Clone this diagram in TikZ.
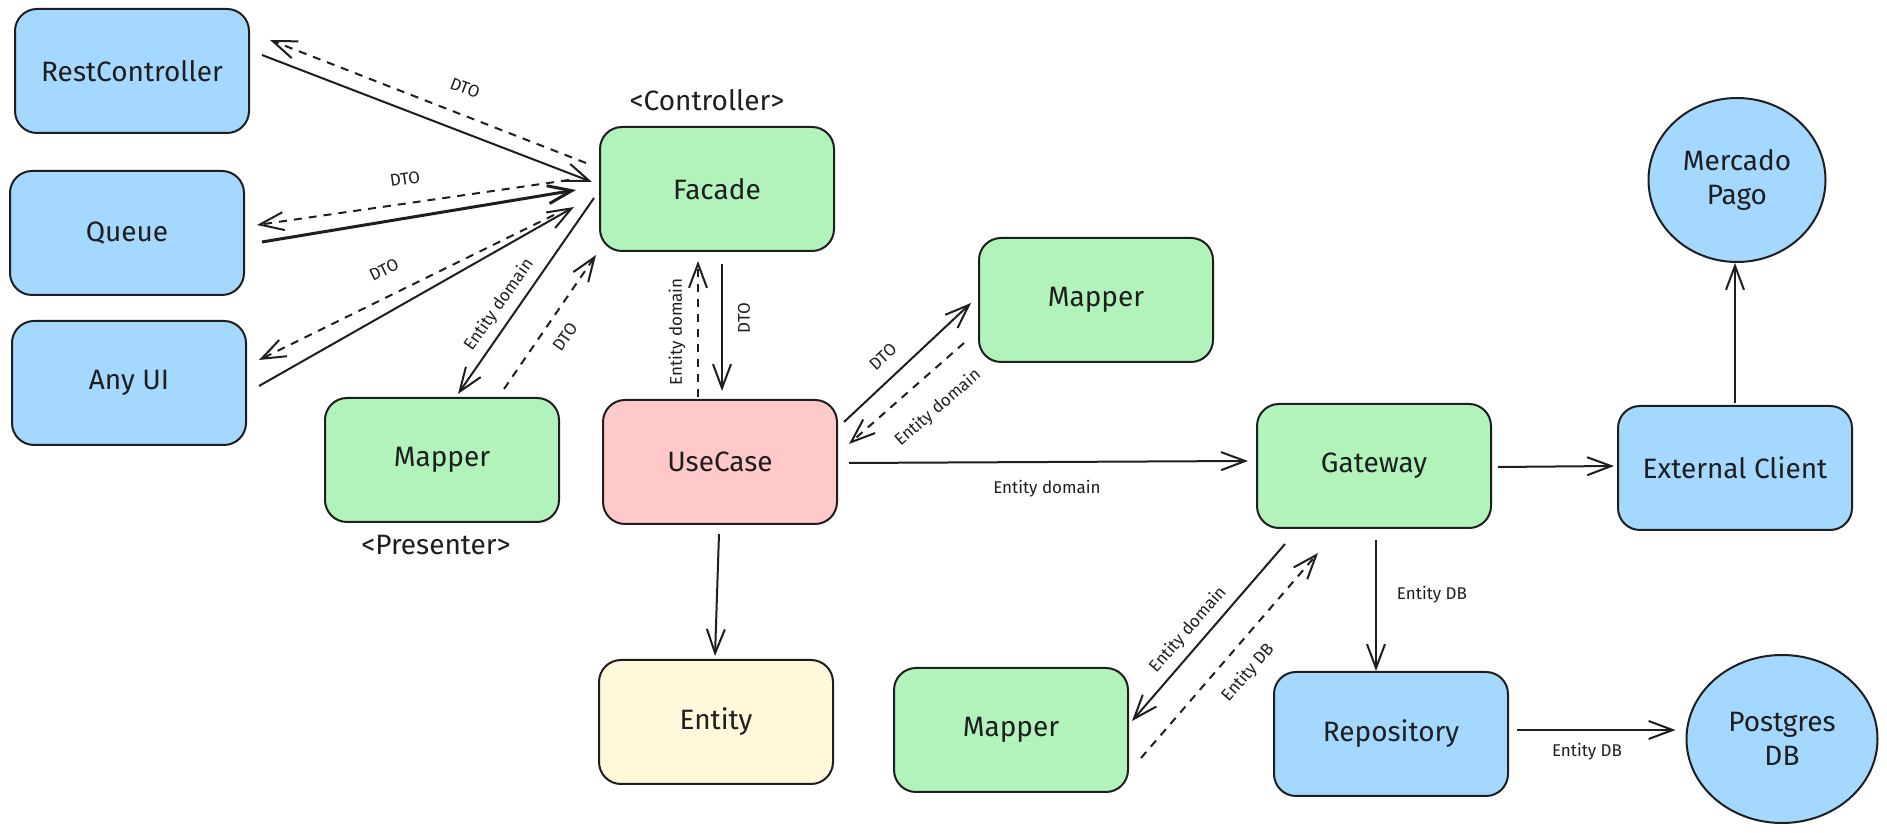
\documentclass[tikz,border=0pt]{standalone}
\usepackage{fontspec}
\setmainfont{Fira Sans}
\usepackage{tikz}
\usetikzlibrary{positioning}
\usetikzlibrary{arrows.meta}
\usetikzlibrary{shapes.geometric}
\definecolor{ink}{HTML}{1E1E1E}
\definecolor{boxblue}{HTML}{A5D8FF}
\definecolor{boxgreen}{HTML}{B2F2BB}
\definecolor{boxpink}{HTML}{FFC9C9}
\definecolor{boxcream}{HTML}{FFF8DA}

\begin{document}
\begin{tikzpicture}[x=0.5pt, y=-0.5pt,
							box/.style={rectangle, rounded corners=11pt, draw=ink, line width=1pt, minimum width=117pt, minimum height=62pt, inner sep=0pt, text=ink, font=\fontsize{14}{17}\selectfont},
							bluebox/.style={box, fill=boxblue},
							greenbox/.style={box, fill=boxgreen},
							pinkbox/.style={box, fill=boxpink},
							creambox/.style={box, fill=boxcream},
							roundnode/.style={ellipse, draw=ink, line width=1pt, fill=boxblue, inner sep=0pt, align=center, text=ink, font=\fontsize{14}{17}\selectfont},
							tag/.style={text=ink, font=\fontsize{14}{17}\selectfont},
							lbl/.style={text=ink, inner sep=1pt, font=\fontsize{8.5}{10}\selectfont},
							flow/.style={draw=ink, line width=1pt, -{Straight Barb[length=12pt, width=9pt]}},
							back/.style={flow, dash pattern=on 4pt off 3.5pt},
							]
							\useasboundingbox (0,0) rectangle (1887,833);
							%Nodes
							\node[bluebox]      (rest)      at (132,71)     {RestController};
							\node[bluebox]      (queue)     at (127,233)    {Queue};
							\node[bluebox]      (anyui)     at (129,383)    {Any UI};
							\node[greenbox]     (facade)    at (717,189)    {Facade};
							\node[tag]          (ctrltag)   at (707,100)    {<Controller>};
							\node[greenbox]     (mapperp)   at (442,460)    {Mapper};
							\node[tag]          (prestag)   at (436,545)    {<Presenter>};
							\node[pinkbox]      (usecase)   at (720,462)    {UseCase};
							\node[greenbox]     (mappert)   at (1096,300)   {Mapper};
							\node[greenbox]     (gateway)   at (1374,466)   {Gateway};
							\node[bluebox]      (extcli)    at (1735,468)   {External Client};
							\node[roundnode, minimum width=88.5pt, minimum height=82pt] (mercado) at (1737,180) {Mercado\\Pago};
							\node[creambox]     (entity)    at (716,722)    {Entity};
							\node[greenbox]     (mapperb)   at (1011,730)   {Mapper};
							\node[bluebox]      (repo)      at (1391,734)   {Repository};
							\node[roundnode, minimum width=95.5pt, minimum height=84pt] (postgres) at (1782,739) {Postgres\\DB};

							%Lines
							\draw[flow] ([shift={(12,-16)}]rest.east) -- ([shift={(-7,-7)}]facade.west);
							\draw[back] ([shift={(-13,-26)}]facade.west) -- ([shift={(20,-31)}]rest.east);
							\draw[flow, line width=1.5pt] ([shift={(17,9)}]queue.east) -- ([shift={(-23,1)}]facade.west);
							\draw[back] ([shift={(-30,-9)}]facade.west) -- ([shift={(12,-8)}]queue.east);
							\draw[flow] ([shift={(12,3)}]anyui.east) -- ([shift={(-25,18)}]facade.west);
							\draw[back] ([shift={(-45,26)}]facade.west) -- ([shift={(12,-23)}]anyui.east);
							\draw[flow] ([shift={(-5,9)}]facade.west) -- ([shift={(16,-3)}]mapperp.north);
							\draw[back] ([shift={(62,-8)}]mapperp.north) -- ([shift={(-3,66)}]facade.west);
							\draw[back] ([shift={(-22,-2)}]usecase.north) -- ([shift={(-19,9)}]facade.south);
							\draw[flow] ([shift={(5,12)}]facade.south) -- ([shift={(2,-8)}]usecase.north);
							\draw[flow] ([shift={(6,-40)}]usecase.east) -- ([shift={(-7,3)}]mappert.west);
							\draw[back] ([shift={(-14,43)}]mappert.west) -- ([shift={(11,-18)}]usecase.east);
							\draw[flow] ([shift={(11,1)}]usecase.east) -- ([shift={(-8,-5)}]gateway.west);
							\draw[flow] ([shift={(6,1)}]gateway.east) -- ([shift={(-3,-2)}]extcli.west);
							\draw[flow] ([shift={(0,-2)}]extcli.north) -- ([shift={(-2,0)}]mercado.south);
							\draw[flow] ([shift={(-1,9)}]usecase.south) -- ([shift={(-1,-3)}]entity.north);
							\draw[flow] ([shift={(-89,15)}]gateway.south) -- ([shift={(3,-9)}]mapperb.east);
							\draw[back] ([shift={(12,28)}]mapperb.east) -- ([shift={(-56,24)}]gateway.south);
							\draw[flow] ([shift={(2,11)}]gateway.south) -- ([shift={(-15,0)}]repo.north);
							\draw[flow] ([shift={(8,-4)}]repo.east) -- ([shift={(-10,-9)}]postgres.west);

							%Labels
							\node[lbl, rotate=-21] (label1)  at (465,88)   {DTO};
							\node[lbl, rotate=8]   (label2)  at (405,179)  {DTO};
							\node[lbl, rotate=26]  (label3)  at (384,270)  {DTO};
							\node[lbl, rotate=55]  (label4)  at (499,305)  {Entity domain};
							\node[lbl, rotate=55]  (label5)  at (565,337)  {DTO};
							\node[lbl, rotate=90]  (label6)  at (677,332)  {Entity domain};
							\node[lbl, rotate=90]  (label7)  at (744,318)  {DTO};
							\node[lbl, rotate=43]  (label8)  at (883,357)  {DTO};
							\node[lbl, rotate=41]  (label9)  at (938,408)  {Entity domain};
							\node[lbl]             (label10) at (1047,489) {Entity domain};
							\node[lbl, rotate=49]  (label11) at (1188,630) {Entity domain};
							\node[lbl, rotate=49]  (label12) at (1248,673) {Entity DB};
							\node[lbl]             (label13) at (1432,595) {Entity DB};
							\node[lbl]             (label14) at (1587,752) {Entity DB};
						\end{tikzpicture}
\end{document}
